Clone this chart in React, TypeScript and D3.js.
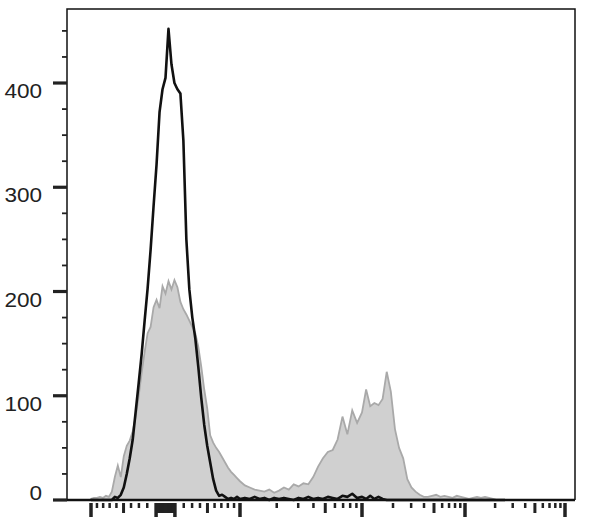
import React from 'react';
import * as d3 from 'd3';

// histogram bins, in display units (one unit per decade above 100, linear-ish below)
const binStart = -1.0;
const binStep = 0.04;

// stained sample (grey filled)
const stainedCounts = [
  1, 2, 2, 3, 2, 4, 3, 8, 22, 33,
  22, 42, 52, 57, 66, 80, 100, 122, 142, 160,
  166, 185, 192, 184, 205, 198, 210, 202, 211, 204,
  190, 183, 178, 172, 166, 160, 147, 128, 106, 88,
  62, 55, 50, 46, 41, 36, 31, 27, 24, 21,
  18, 14, 12, 10, 9, 8, 10, 7, 9, 12,
  10, 15, 13, 16, 15, 22, 32, 40, 46, 48,
  58, 80, 63, 86, 74, 84, 106, 90, 93, 91,
  97, 123, 104, 68, 50, 40, 20, 12, 8, 5,
  3, 3, 4, 5, 3, 4, 3, 2, 4, 3,
  2, 1, 2, 3, 2, 3, 2, 1, 0, 0,
  0,
];

// control (black line)
const controlCounts = [
  0, 0, 0, 0, 0, 0, 0, 0, 3, 2,
  5, 12, 25, 40, 58, 85, 112, 140, 172, 203,
  240, 282, 322, 372, 394, 405, 452, 418, 400, 394,
  390, 345, 250, 202, 175, 155, 128, 98, 72, 52,
  36, 20, 9, 4, 5, 3, 1, 2, 1, 3,
  1, 2, 1, 3, 1, 2, 0, 2, 1, 2,
  1, 0, 2, 1, 3, 1, 2, 1, 3, 2,
  1, 4, 3, 6, 2, 3, 1, 4, 1, 3,
  1, 0, 0, 0, 0, 0, 0, 0, 0, 0,
  0, 0, 0, 0, 0, 0, 0, 0, 0, 0,
  0, 0, 0, 0, 0, 0, 0, 0, 0, 0,
  0,
];

const yTickValues = [0, 100, 200, 300, 400];
const yMinorValues = [25, 50, 75, 125, 150, 175, 225, 250, 275, 325, 350, 375, 425, 450];
const xDecades = [10, 100, 1000, 10000];
const xMultipliers = [1, 2, 3, 4, 5, 6, 7, 8, 9];

const width = 590;
const height = 529;
const left = 67;
const right = 575;
const top = 9;
const bottom = 500;

// logicle-like display transform
const linLimit = 100;
const linWidth = 150;
function toDisplay(v: number) {
  const a = Math.abs(v);
  const t = a <= linLimit
    ? Math.log10(1 + a / linWidth) / Math.log10(1 + linLimit / linWidth)
    : 1 + Math.log10(a / linLimit);
  return Math.sign(v) * t;
}

const x = d3.scaleLinear()
  .domain([-1, 0, 1, 2, 3, 4])
  .range([91, 165.5, 240, 362, 465, 565]);

const y = d3.scaleLinear().domain([0, 471]).range([bottom, top]);

type Tick = { v: number; kind: 'major' | 'mid' | 'minor' };

function buildXTicks(): Tick[] {
  const ticks: Tick[] = [];
  xDecades.forEach((d) => {
    xMultipliers.forEach((m) => {
      const kind = m === 1 ? 'major' : m === 5 ? 'mid' : 'minor';
      ticks.push({ v: m * d, kind });
      if (d === 10) ticks.push({ v: -m * d, kind });
    });
  });
  ticks.push({ v: 100000, kind: 'major' });
  ticks.push({ v: -100, kind: 'major' });
  xMultipliers.forEach((m) => {
    ticks.push({ v: m, kind: 'mid' });
    ticks.push({ v: -m, kind: 'mid' });
  });
  ticks.push({ v: 0, kind: 'mid' });
  return ticks;
}

export default function App() {
  const stained = stainedCounts.map((c, i) => ({ t: binStart + i * binStep, c }));
  const control = controlCounts.map((c, i) => ({ t: binStart + i * binStep, c }));

  const area = d3.area<{ t: number; c: number }>()
    .x((d) => x(d.t))
    .y0(y(0))
    .y1((d) => y(d.c));
  const line = d3.line<{ t: number; c: number }>()
    .x((d) => x(d.t))
    .y((d) => y(d.c));

  const xTicks = buildXTicks();
  const tickLen = { major: 14, mid: 10, minor: 5 };
  const tickW = { major: 3.5, mid: 3, minor: 2.5 };

  return (
    <svg width={width} height={height} style={{ position: 'absolute', left: 0, top: 0, background: '#fff' }}>
      <path d={area(stained) || ''} fill="#d0d0d0" stroke="#a9a9a9" strokeWidth={1.8} />
      <line x1={left} x2={right} y1={bottom} y2={bottom} stroke="#111" strokeWidth={2.6} />
      <path d={line(control) || ''} fill="none" stroke="#111" strokeWidth={2.6} strokeLinejoin="round" />

      {/* frame */}
      <path d={`M${left},${bottom}V${top}H${right}V${bottom}`} fill="none" stroke="#111" strokeWidth={1.5} />

      {/* y axis */}
      {yMinorValues.map((v) => (
        <line key={'ym' + v} x1={left - 5} x2={left} y1={y(v)} y2={y(v)} stroke="#222" strokeWidth={1.8} />
      ))}
      {yTickValues.map((v) => (
        <g key={'y' + v}>
          <line x1={left - 14} x2={left} y1={y(v)} y2={y(v)} stroke="#222" strokeWidth={3.2} />
          <text
            transform={`translate(42,${v === 0 ? y(v) : y(v) + 15}) scale(1.1,1)`}
            textAnchor="end"
            fontFamily="'Liberation Sans', Arial, sans-serif"
            fontSize={20.5}
            fill="#222"
          >
            {v}
          </text>
        </g>
      ))}

      {/* x axis ticks */}
      {xTicks.map((tk) => {
        const px = x(toDisplay(tk.v));
        return (
          <line
            key={'x' + tk.v}
            x1={px}
            x2={px}
            y1={bottom + 3}
            y2={bottom + 3 + tickLen[tk.kind]}
            stroke="#222"
            strokeWidth={tickW[tk.kind]}
          />
        );
      })}
    </svg>
  );
}
